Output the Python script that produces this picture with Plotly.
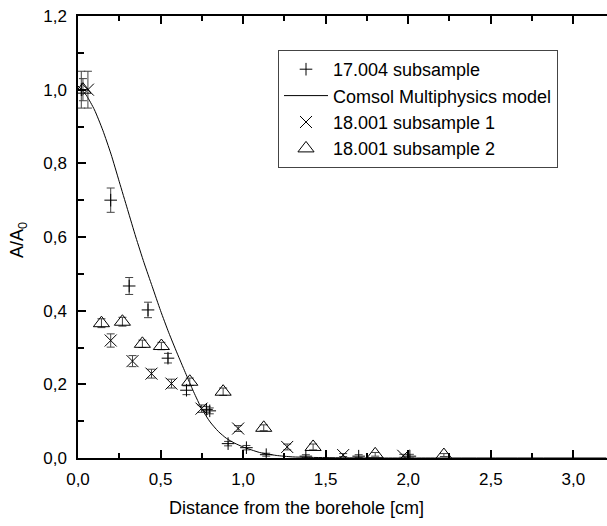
import plotly.graph_objects as go

# 17.004 subsample (plus markers with error bars)
s17_x = [0.02, 0.198, 0.31, 0.424, 0.545, 0.657, 0.778, 0.798, 0.909, 1.02, 1.14, 1.38, 1.70, 2.01]
s17_y = [1.0, 0.70, 0.467, 0.402, 0.271, 0.184, 0.132, 0.128, 0.039, 0.028, 0.009, 0.005, 0.005, 0.005]
s17_e = [0.05, 0.033, 0.023, 0.021, 0.013, 0.012, 0.008, 0.008, 0.006, 0.006, 0.004, 0.004, 0.004, 0.005]

# Comsol Multiphysics model
model_x = [0.0, 0.05, 0.1, 0.15, 0.2, 0.25, 0.3, 0.35, 0.4, 0.45, 0.5, 0.55, 0.6, 0.65,
           0.7, 0.75, 0.8, 0.85, 0.9, 0.95, 1.0, 1.1, 1.2, 1.3, 1.5, 1.8, 2.2, 3.2]
model_y = [1.01, 0.985, 0.945, 0.89, 0.825, 0.75, 0.675, 0.60, 0.53, 0.465, 0.40, 0.34, 0.285, 0.232,
           0.18, 0.133, 0.098, 0.072, 0.053, 0.04, 0.03, 0.015, 0.007, 0.003, 0.001, 0.0, 0.0, 0.0]

# 18.001 subsample 1 (x markers)
s1_x = [0.06, 0.198, 0.33, 0.445, 0.566, 0.748, 0.97, 1.267, 1.606, 1.97]
s1_y = [1.0, 0.319, 0.263, 0.229, 0.202, 0.134, 0.08, 0.03, 0.008, 0.006]
s1_e = [0.05, 0.018, 0.015, 0.012, 0.012, 0.01, 0.008, 0.008, 0.004, 0.004]

# 18.001 subsample 2 (triangles)
s2_x = [0.03, 0.142, 0.269, 0.39, 0.505, 0.677, 0.879, 1.125, 1.424, 1.80, 2.216]
s2_y = [1.0, 0.366, 0.37, 0.31, 0.304, 0.207, 0.18, 0.082, 0.03, 0.01, 0.008]
s2_e = [0.03, 0.012, 0.012, 0.01, 0.01, 0.01, 0.01, 0.008, 0.008, 0.005, 0.004]

x_ticks = [0, 0.5, 1.0, 1.5, 2.0, 2.5, 3.0]
y_ticks = [0, 0.2, 0.4, 0.6, 0.8, 1.0, 1.2]

ERR = '#444444'
FONT = 'Liberation Sans, Arial'
fig = go.Figure()
fig.add_trace(go.Scatter(
    x=s17_x, y=s17_y, mode='markers', name='17.004 subsample',
    marker=dict(symbol='cross-thin', size=9, color='black', line=dict(width=1, color='black')),
    error_y=dict(type='data', array=s17_e, color=ERR, thickness=1, width=4)))
fig.add_trace(go.Scatter(
    x=model_x, y=model_y, mode='lines', name='Comsol Multiphysics model',
    line=dict(color='black', width=1, shape='spline', smoothing=0.6)))
fig.add_trace(go.Scatter(
    x=s1_x, y=s1_y, mode='markers', name='18.001 subsample 1',
    marker=dict(symbol='x-thin', size=12, color='black', line=dict(width=1, color='black')),
    error_y=dict(type='data', array=s1_e, color=ERR, thickness=1, width=4)))
fig.add_trace(go.Scatter(
    x=s2_x, y=s2_y, mode='markers', name='18.001 subsample 2',
    marker=dict(symbol='triangle-up-open', size=14, color='black', line=dict(width=1, color='black')),
    error_y=dict(type='data', array=s2_e, color=ERR, thickness=1, width=4)))

L, R, T, B = 78, 0, 16, 68
W, H = 607, 526
pw, ph = W - L - R, H - T - B

axis_common = dict(
    showline=True, linewidth=1.5, linecolor='black',
    ticks='inside', ticklen=8, tickwidth=1.5, tickcolor='black',
    showgrid=False, zeroline=False,
    tickfont=dict(family=FONT, size=17, color='black'),
)
fig.update_xaxes(**axis_common, range=[0, 3.204], tickvals=x_ticks, tickformat='.1f',
                 mirror='ticks', ticklabelstandoff=5,
                 minor=dict(dtick=0.25, ticks='inside', ticklen=5, tickwidth=1.5, tickcolor='black', tick0=0))
fig.update_yaxes(**axis_common, range=[0, 1.2], tickvals=y_ticks, tickformat='.1f',
                 mirror=False, ticklabelstandoff=6,
                 minor=dict(dtick=0.1, ticks='inside', ticklen=6, tickwidth=1.5, tickcolor='black', tick0=0))

fig.update_layout(
    width=W, height=H, margin=dict(l=L, r=R, t=T, b=B),
    paper_bgcolor='white', plot_bgcolor='white',
    separators=', ',
    font=dict(family=FONT, color='black'),
    showlegend=True,
    legend=dict(x=(278 - L) / pw, y=(H - B - 50) / ph, xanchor='left', yanchor='top',
                bordercolor='#444444', borderwidth=1, bgcolor='white',
                font=dict(family=FONT, size=18, color='black'),
                itemwidth=44, tracegroupgap=0),
    annotations=[
        dict(text='Distance from the borehole [cm]', xref='paper', yref='paper',
             x=(296 - L) / pw, y=-(508 - (H - B)) / ph, xanchor='center', yanchor='middle',
             showarrow=False, font=dict(family=FONT, size=18, color='black')),
        dict(text='A/A<sub>0</sub>', xref='paper', yref='paper',
             x=(18 - L) / pw, y=((H - B) - 240) / ph, xanchor='center', yanchor='middle',
             textangle=-90, showarrow=False, font=dict(family=FONT, size=18, color='black')),
    ],
)

fig.write_html('out.html')
